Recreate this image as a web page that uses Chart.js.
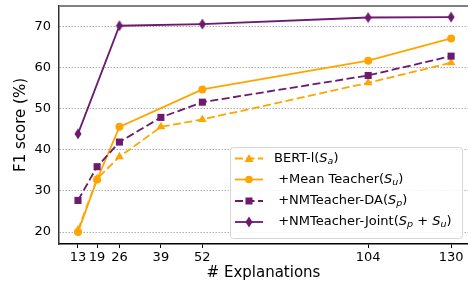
<!DOCTYPE html>
<html>
<head>
<meta charset="utf-8">
<script src="https://cdn.jsdelivr.net/npm/chart.js@4.4.0/dist/chart.umd.min.js"></script>
<style>
  html, body { margin: 0; padding: 0; background: #fff; }
  #wrap { width: 468px; height: 287px; }
</style>
</head>
<body>
<div id="wrap"><canvas id="f1Chart" width="468" height="287"></canvas></div>
<script>
// Values
const xTicks = [13, 19, 26, 39, 52, 104, 130];
const yTicks = [20, 30, 40, 50, 60, 70];

const bertX = [13, 19, 26, 39, 52, 104, 130];
const bertY = [20.5, 33.0, 38.3, 45.6, 47.4, 56.3, 61.2];

const meanX = [13, 19, 26, 52, 104, 130];
const meanY = [20.0, 32.8, 45.6, 54.7, 61.7, 67.1];

const daX = [13, 19, 26, 39, 52, 104, 130];
const daY = [27.7, 35.9, 41.9, 47.9, 51.6, 58.1, 62.8];

const jointX = [13, 26, 52, 104, 130];
const jointY = [43.9, 70.2, 70.6, 72.2, 72.3];

const ORANGE = '#ffa500';
const PURPLE = '#6b1a6f';
const FONT = "'DejaVu Sans', sans-serif";

function toPoints(xs, ys) {
    return xs.map((x, i) => ({ x: x, y: ys[i] }));
}

// thin diamond marker (matplotlib 'd')
function makeDiamond(color) {
    const c = document.createElement('canvas');
    c.width = 8;
    c.height = 12;
    const g = c.getContext('2d');
    g.fillStyle = color;
    g.beginPath();
    g.moveTo(4, 0.5);
    g.lineTo(7.5, 6);
    g.lineTo(4, 11.5);
    g.lineTo(0.5, 6);
    g.closePath();
    g.fill();
    return c;
}
const diamond = makeDiamond(PURPLE);

const DASH = [8, 3.5];

// legend drawn inside the plot, like matplotlib's
const legendPlugin = {
    id: 'innerLegend',
    afterDraw(chart) {
        const ctx = chart.ctx;
        const bx = 230, by = 147, bw = 232, bh = 91;
        ctx.save();
        ctx.beginPath();
        ctx.roundRect(bx + 0.5, by + 0.5, bw, bh, 3);
        ctx.fillStyle = 'rgba(255,255,255,0.85)';
        ctx.fill();
        ctx.strokeStyle = '#d6d6d6';
        ctx.lineWidth = 1;
        ctx.stroke();

        const rows = [
            { color: ORANGE, dash: DASH, marker: 'tri', main: 'BERT-l(', sub: 'a', tail: ')', tx: 274 },
            { color: ORANGE, dash: [], marker: 'circ', main: ' +Mean Teacher(', sub: 'u', tail: ')', tx: 274 },
            { color: PURPLE, dash: DASH, marker: 'sq', main: ' +NMTeacher-DA(', sub: 'p', tail: ')', tx: 274 },
            { color: PURPLE, dash: [], marker: 'dia', main: ' +NMTeacher-Joint(', sub: 'p', tail: ' + ', sub2: 'u', tx: 274 }
        ];
        const ys = [158.5, 179.5, 201, 222];
        rows.forEach((r, i) => {
            const y = ys[i];
            ctx.strokeStyle = r.color;
            ctx.lineWidth = 1.8;
            ctx.setLineDash(r.dash);
            ctx.beginPath();
            ctx.moveTo(235, y);
            ctx.lineTo(263, y);
            ctx.stroke();
            ctx.setLineDash([]);
            ctx.fillStyle = r.color;
            const mx = 249;
            if (r.marker === 'tri') {
                ctx.beginPath();
                ctx.moveTo(mx, y - 4.5);
                ctx.lineTo(mx + 4.5, y + 3.5);
                ctx.lineTo(mx - 4.5, y + 3.5);
                ctx.closePath();
                ctx.fill();
            } else if (r.marker === 'circ') {
                ctx.beginPath();
                ctx.arc(mx, y, 3.8, 0, Math.PI * 2);
                ctx.fill();
            } else if (r.marker === 'sq') {
                ctx.fillRect(mx - 3.5, y - 3.5, 7, 7);
            } else {
                ctx.drawImage(diamond, mx - 4, y - 6);
            }

            // text
            ctx.fillStyle = '#000';
            ctx.textBaseline = 'middle';
            let x = r.tx;
            const seg = (t, font, dy) => {
                ctx.font = font;
                ctx.fillText(t, x, y + (dy || 0));
                x += ctx.measureText(t).width;
            };
            const big = '13px ' + FONT;
            const ital = 'italic 13px ' + FONT;
            const small = 'italic 9.5px ' + FONT;
            seg(r.main, big);
            seg('S', ital);
            seg(r.sub, small, 3);
            if (r.sub2) {
                seg(r.tail, big);
                seg('S', ital);
                seg(r.sub2, small, 3);
                seg(')', big);
            } else {
                seg(r.tail, big);
            }
        });
        ctx.restore();
    }
};

// top spine (gray) like in the figure
const spinePlugin = {
    id: 'topSpine',
    afterDraw(chart) {
        const a = chart.chartArea;
        const ctx = chart.ctx;
        ctx.save();
        ctx.strokeStyle = '#808080';
        ctx.lineWidth = 2;
        ctx.beginPath();
        ctx.moveTo(a.left, a.top);
        ctx.lineTo(a.right, a.top);
        ctx.stroke();
        ctx.restore();
    }
};

const ctx = document.getElementById('f1Chart').getContext('2d');
new Chart(ctx, {
    type: 'line',
    data: {
        datasets: [
            {
                label: 'BERT-l',
                data: toPoints(bertX, bertY),
                borderColor: ORANGE,
                backgroundColor: ORANGE,
                borderDash: DASH,
                borderWidth: 1.8,
                pointStyle: 'triangle',
                pointRadius: 5,
                pointBorderWidth: 0,
                order: 4
            },
            {
                label: '+Mean Teacher',
                data: toPoints(meanX, meanY),
                borderColor: ORANGE,
                backgroundColor: ORANGE,
                borderWidth: 1.8,
                pointStyle: 'circle',
                pointRadius: 4,
                pointBorderWidth: 0,
                order: 3
            },
            {
                label: '+NMTeacher-DA',
                data: toPoints(daX, daY),
                borderColor: PURPLE,
                backgroundColor: PURPLE,
                borderDash: DASH,
                borderWidth: 1.8,
                pointStyle: 'rect',
                pointRadius: 5,
                pointBorderWidth: 0,
                order: 2
            },
            {
                label: '+NMTeacher-Joint',
                data: toPoints(jointX, jointY),
                borderColor: PURPLE,
                backgroundColor: PURPLE,
                borderWidth: 1.8,
                pointStyle: diamond,
                pointRadius: 5,
                order: 1
            }
        ]
    },
    options: {
        responsive: false,
        animation: false,
        layout: { autoPadding: false, padding: { top: 6, right: 0, left: 0, bottom: 0 } },
        plugins: {
            legend: { display: false },
            tooltip: { enabled: false }
        },
        scales: {
            x: {
                type: 'linear',
                min: 7.05,
                max: 135.3,
                afterBuildTicks: (axis) => {
                    axis.ticks = xTicks.map(v => ({ value: v }));
                },
                afterFit: (axis) => {
                    axis.height = 43;
                    axis.paddingLeft = 0;
                    axis.paddingRight = 0;
                },
                grid: {
                    display: true,
                    drawOnChartArea: false,
                    drawTicks: true,
                    tickLength: 4,
                    tickColor: '#000'
                },
                border: { display: true, color: '#000', width: 1.5 },
                ticks: {
                    autoSkip: false,
                    maxRotation: 0,
                    padding: 2,
                    color: '#000',
                    font: { family: FONT, size: 13 }
                },
                title: {
                    display: true,
                    text: '# Explanations',
                    color: '#000',
                    font: { family: FONT, size: 15 },
                    padding: { top: 0, bottom: 5 }
                }
            },
            y: {
                min: 17.1,
                max: 75.0,
                afterBuildTicks: (axis) => {
                    axis.ticks = yTicks.map(v => ({ value: v }));
                },
                afterFit: (axis) => {
                    axis.width = 59;
                    axis.paddingTop = 0;
                    axis.paddingBottom = 0;
                },
                grid: {
                    color: '#b0b0b0',
                    lineWidth: 1,
                    drawTicks: false
                },
                border: { display: true, color: '#333', width: 1.5, dash: [1.5, 1.5] },
                ticks: {
                    padding: 8,
                    color: '#000',
                    font: { family: FONT, size: 13 }
                },
                title: {
                    display: true,
                    text: 'F1 score (%)',
                    color: '#000',
                    font: { family: FONT, size: 15 },
                    padding: { top: 12, bottom: 0 }
                }
            }
        }
    },
    plugins: [spinePlugin, legendPlugin]
});
</script>
</body>
</html>
